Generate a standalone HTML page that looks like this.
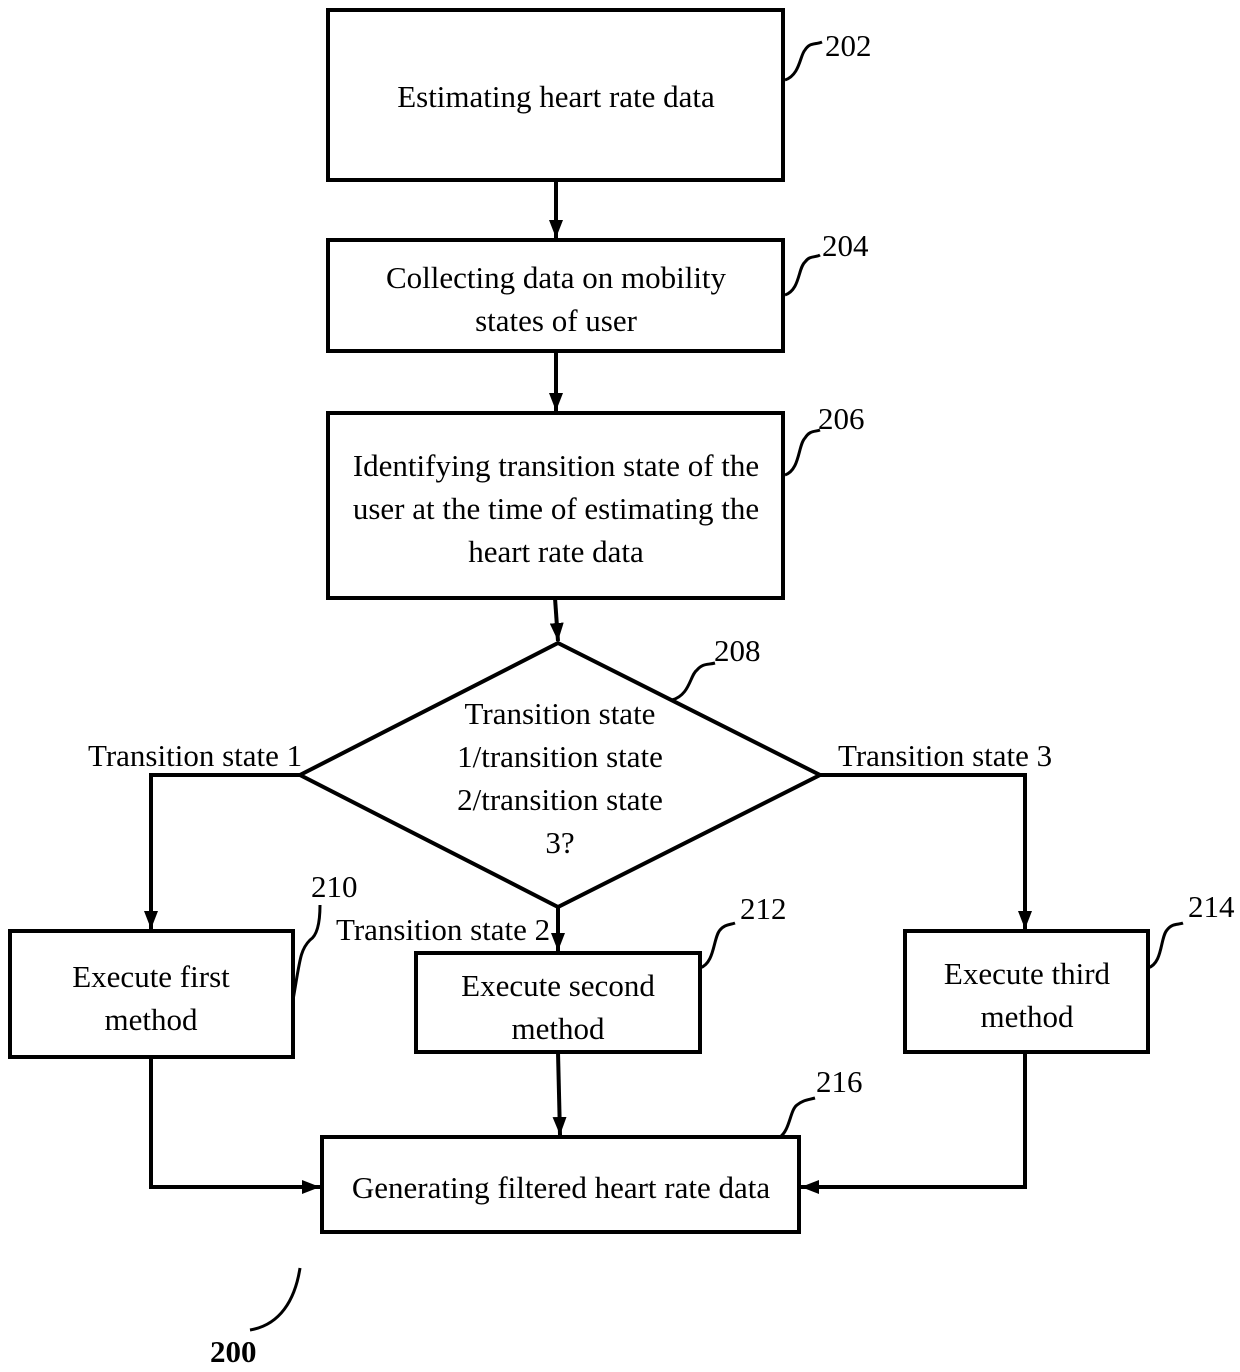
<!DOCTYPE html>
<html><head><style>body{margin:0;background:#fff}svg{display:block}text{font-family:"Liberation Serif",serif;font-size:31px;fill:#000}</style></head><body>
<svg width="1240" height="1372" viewBox="0 0 1240 1372">
<defs>
<marker id="b" viewBox="0 0 10 10" refX="10" refY="5" markerWidth="18" markerHeight="14" orient="auto" markerUnits="userSpaceOnUse" preserveAspectRatio="none"><path d="M0,0 L10,5 L0,10 z"/></marker></defs>
<g fill="none" stroke="#000" stroke-width="4">
<rect x="328" y="10" width="455" height="170"/>
<rect x="328" y="240" width="455" height="111"/>
<rect x="328" y="413" width="455" height="185"/>
<polygon points="558,643 820,775 558,907 300,775"/>
<rect x="10" y="931" width="283" height="126"/>
<rect x="416" y="953" width="284" height="99"/>
<rect x="905" y="931" width="243" height="121"/>
<rect x="322" y="1137" width="477" height="95"/>
<g marker-end="url(#b)">
<line x1="556" y1="180" x2="556" y2="238"/>
<line x1="556" y1="351" x2="556" y2="411"/>
<line x1="555" y1="598" x2="558" y2="641"/>
<polyline points="300,775 151,775 151,929"/>
<polyline points="820,775 1025,775 1025,929"/>
<line x1="558" y1="907" x2="558" y2="951"/>
<polyline points="151,1057 151,1187 320,1187"/>
<line x1="558" y1="1052" x2="560" y2="1135"/>
<polyline points="1025,1052 1025,1187 801,1187"/>
</g>
<g stroke-width="3">
<path d="M785,80 C800,75 800,55 805,50 C810,42 815,45 822,42"/>
<path d="M785,295 C800,290 798,268 805,262 C810,255 815,258 820,255"/>
<path d="M785,475 C800,470 798,445 805,438 C810,430 815,432 820,430"/>
<path d="M672,700 C690,695 690,675 697,670 C703,663 708,665 715,663"/>
<path d="M293,1000 C300,960 300,950 310,940 C318,935 320,920 320,905"/>
<path d="M700,968 C715,963 713,938 720,930 C725,924 730,925 735,923"/>
<path d="M1148,968 C1163,963 1160,938 1167,930 C1172,923 1178,925 1183,923"/>
<path d="M780,1137 C790,1130 790,1110 797,1105 C803,1100 808,1100 815,1098"/>
<path d="M250,1330 C280,1325 295,1300 300,1268"/>
</g>
</g>
<g text-anchor="middle">
<text x="556" y="107">Estimating heart rate data</text>
<text x="556" y="288">Collecting data on mobility</text>
<text x="556" y="331">states of user</text>
<text x="556" y="476">Identifying transition state of the</text>
<text x="556" y="519">user at the time of estimating the</text>
<text x="556" y="562">heart rate data</text>
<text x="560" y="724">Transition state</text>
<text x="560" y="767">1/transition state</text>
<text x="560" y="810">2/transition state</text>
<text x="560" y="853">3?</text>
<text x="151" y="987">Execute first</text>
<text x="151" y="1030">method</text>
<text x="558" y="996">Execute second</text>
<text x="558" y="1039">method</text>
<text x="1027" y="984">Execute third</text>
<text x="1027" y="1027">method</text>
<text x="561" y="1198">Generating filtered heart rate data</text>
</g>
<text x="88" y="766">Transition state 1</text>
<text x="838" y="766">Transition state 3</text>
<text x="336" y="940">Transition state 2</text>
<text x="825" y="56">202</text>
<text x="822" y="256">204</text>
<text x="818" y="429">206</text>
<text x="714" y="661">208</text>
<text x="311" y="897">210</text>
<text x="740" y="919">212</text>
<text x="1188" y="917">214</text>
<text x="816" y="1092">216</text>
<text x="210" y="1362" font-weight="bold">200</text>
</svg>
</body></html>
